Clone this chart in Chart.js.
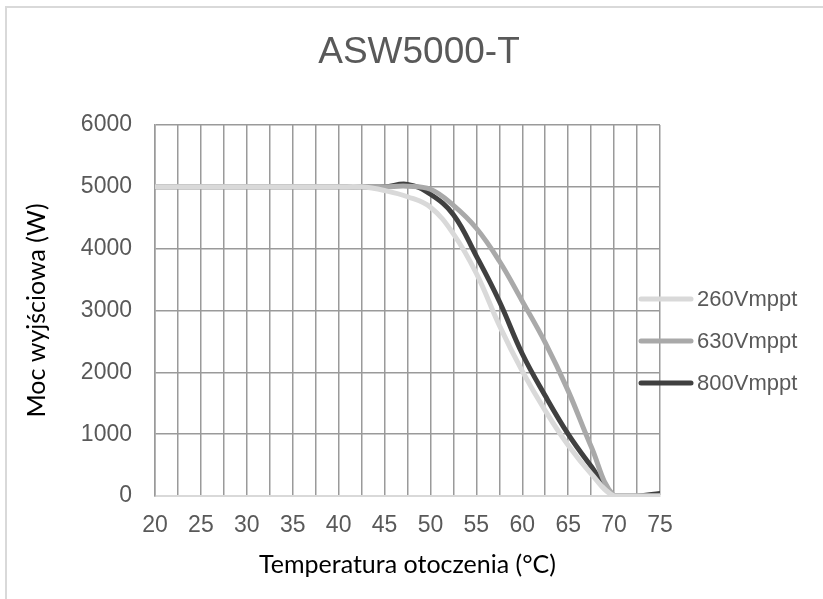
<!DOCTYPE html>
<html>
<head>
<meta charset="utf-8">
<script src="https://cdn.jsdelivr.net/npm/chart.js@4"></script>
<style>
  html, body { margin: 0; padding: 0; background: #fff; }
  #wrap { width: 823px; height: 599px; }
</style>
</head>
<body>
<div id="wrap"><canvas id="chartCanvas"></canvas></div>
<script>
// temperatures (°C), sampled every 2.5
const temps = [20, 22.5, 25, 27.5, 30, 32.5, 35, 37.5, 40, 42.5, 45, 47.5, 50, 52.5, 55, 57.5, 60, 62.5, 65, 67.5, 70, 72.5, 75];
const seriesNames = ['260Vmppt', '630Vmppt', '800Vmppt'];
const v260 = [5000, 5000, 5000, 5000, 5000, 5000, 5000, 5000, 5000, 5000, 4940, 4840, 4670, 4240, 3600, 2760, 2020, 1380, 820, 360, 0, 0, 0];
const v630 = [5000, 5000, 5000, 5000, 5000, 5000, 5000, 5000, 5000, 5000, 5000, 5010, 4960, 4700, 4330, 3800, 3150, 2480, 1700, 800, 0, 0, 0];
const v800 = [5000, 5000, 5000, 5000, 5000, 5000, 5000, 5000, 5000, 5000, 5000, 5040, 4880, 4550, 3880, 3150, 2300, 1620, 1000, 480, 0, 0, 40];
const seriesColors = ['#d9d9d9', '#a9a9a9', '#404040'];
const chartTitle = 'ASW5000-T';

function pts(vals) {
  return temps.map((t, i) => ({ x: t, y: vals[i] }));
}

// frame, title and legend drawn like excel (legend overlaps the plot)
const framePlugin = {
  id: 'frame',
  beforeDraw(chart) {
    const c = chart.ctx;
    c.save();
    c.fillStyle = '#fff';
    c.fillRect(0, 0, chart.width, chart.height);
    c.strokeStyle = '#d9d9d9';
    c.lineWidth = 2;
    c.strokeRect(6, 7, chart.width + 10, chart.height + 10);
    c.restore();
  },
  afterDraw(chart) {
    const c = chart.ctx;
    c.save();
    c.fillStyle = '#595959';
    c.font = '37px "Liberation Sans", Arial, sans-serif';
    c.textAlign = 'center';
    c.textBaseline = 'middle';
    c.fillText(chartTitle, 419, 53);

    const ys = [299, 341, 383];
    c.font = '22px "Liberation Sans", Arial, sans-serif';
    c.textAlign = 'left';
    c.lineCap = 'round';
    chart.data.datasets.forEach((ds, i) => {
      c.strokeStyle = ds.borderColor;
      c.lineWidth = 5;
      c.beginPath();
      c.moveTo(641, ys[i]);
      c.lineTo(691, ys[i]);
      c.stroke();
      c.fillStyle = '#595959';
      c.fillText(ds.label, 697, ys[i] + 1);
    });
    c.restore();
  }
};

const ctx = document.querySelector('#chartCanvas');
const chart = new Chart(ctx, {
  type: 'line',
  data: {
    datasets: [
      { label: seriesNames[0], data: pts(v260), borderColor: seriesColors[0] },
      { label: seriesNames[1], data: pts(v630), borderColor: seriesColors[1] },
      { label: seriesNames[2], data: pts(v800), borderColor: seriesColors[2] }
    ].map(d => Object.assign(d, {
      borderWidth: 5,
      pointRadius: 0,
      tension: 0.4,
      fill: false,
      borderCapStyle: 'round'
    }))
  },
  options: {
    responsive: true,
    maintainAspectRatio: false,
    animation: false,
    layout: { padding: { left: 0, right: 163, top: 125, bottom: 0 } },
    plugins: {
      legend: { display: false },
      tooltip: { enabled: false },
      title: { display: false }
    },
    scales: {
      x: {
        type: 'linear',
        min: 20,
        max: 75,
        afterFit: s => { s.height = 103; },
        ticks: {
          stepSize: 2.5,
          autoSkip: false,
          maxRotation: 0,
          padding: 16,
          color: '#595959',
          font: { family: '"Liberation Sans", Arial, sans-serif', size: 23 },
          callback: v => (v % 5 === 0 ? String(v) : '')
        },
        grid: { color: '#9a9a9a', lineWidth: 1.5, drawTicks: false },
        border: { color: '#d9d9d9', width: 2 },
        title: {
          display: true,
          text: 'Temperatura otoczenia (°C)',
          color: '#000',
          font: { family: 'Lato, "Open Sans", sans-serif', size: 25 },
          padding: { top: 0, bottom: 19 }
        }
      },
      y: {
        min: 0,
        max: 6000,
        afterFit: s => { s.width = 155; },
        ticks: {
          stepSize: 1000,
          padding: 23,
          color: '#595959',
          font: { family: '"Liberation Sans", Arial, sans-serif', size: 23 },
          callback: v => String(v)
        },
        grid: {
          color: c => (c.tick && c.tick.value === 0 ? '#d9d9d9' : '#9a9a9a'),
          lineWidth: 1.5,
          drawTicks: false
        },
        border: { color: '#9a9a9a', width: 1.5 },
        title: {
          display: true,
          text: 'Moc wyjściowa (W)',
          color: '#000',
          font: { family: 'Lato, "Open Sans", sans-serif', size: 25 },
          padding: { top: 22, bottom: 0 }
        }
      }
    }
  },
  plugins: [framePlugin]
});
</script>
</body>
</html>
